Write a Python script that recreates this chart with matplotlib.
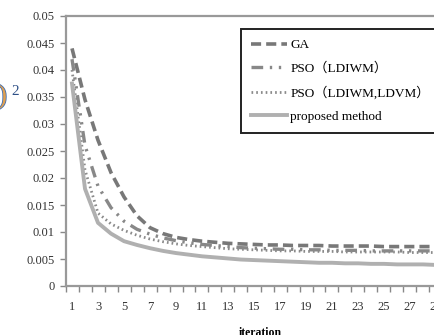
import matplotlib
matplotlib.use("Agg")
import matplotlib.pyplot as plt
import matplotlib.patheffects as pe
from matplotlib.ticker import FixedLocator, NullFormatter

plt.rcParams['font.family'] = ['Liberation Serif', 'Noto Sans CJK SC', 'DejaVu Sans']

iterations = list(range(1, 31))
ga = [0.0440, 0.0345, 0.0270, 0.0210, 0.0165, 0.0130, 0.0108, 0.0097, 0.0090, 0.0086,
      0.0083, 0.0081, 0.0079, 0.0078, 0.0077, 0.0076, 0.0076, 0.0075, 0.0075, 0.0075,
      0.0074, 0.0074, 0.0074, 0.0074, 0.0073, 0.0073, 0.0073, 0.0073, 0.0073, 0.0073]
pso_ldiwm = [0.0420, 0.0260, 0.0185, 0.0145, 0.0120, 0.0105, 0.0096, 0.0089, 0.0084, 0.0080,
             0.0077, 0.0075, 0.0073, 0.0071, 0.0070, 0.0069, 0.0068, 0.0068, 0.0067, 0.0067,
             0.0066, 0.0066, 0.0066, 0.0065, 0.0065, 0.0065, 0.0065, 0.0065, 0.0065, 0.0065]
pso_ldiwm_ldvm = [0.0400, 0.0215, 0.0135, 0.0115, 0.0103, 0.0094, 0.0087, 0.0082, 0.0078, 0.0075,
                  0.0073, 0.0071, 0.0069, 0.0068, 0.0067, 0.0066, 0.0065, 0.0065, 0.0064, 0.0064,
                  0.0064, 0.0063, 0.0063, 0.0063, 0.0063, 0.0063, 0.0062, 0.0062, 0.0062, 0.0062]
proposed = [0.0375, 0.0180, 0.0117, 0.0097, 0.0083, 0.0076, 0.0070, 0.0065, 0.0061, 0.0058,
            0.0055, 0.0053, 0.0051, 0.0049, 0.0048, 0.0047, 0.0046, 0.0045, 0.0044, 0.0043,
            0.0043, 0.0042, 0.0042, 0.0041, 0.0041, 0.0040, 0.0040, 0.0040, 0.0039, 0.0039]
labels = ["GA", "PSO（LDIWM）", "PSO（LDIWM,LDVM）", "proposed method"]
y_ticks = [0, 0.005, 0.01, 0.015, 0.02, 0.025, 0.03, 0.035, 0.04, 0.045, 0.05]
y_tick_labels = ["0", "0.005", "0.01", "0.015", "0.02", "0.025", "0.03", "0.035", "0.04", "0.045", "0.05"]
x_tick_values = list(range(1, 30, 2))

W, H = 434, 335
fig = plt.figure(figsize=(W / 100, H / 100), dpi=100)
ax = fig.add_axes([65.5 / W, 49 / H, 390 / W, 270 / H])

ax.plot(iterations, ga, color='#787878', lw=2.6, ls=(0, (2.8, 1.4)), label=labels[0])
ax.plot(iterations, pso_ldiwm, color='#888888', lw=2.4, ls=(0, (3.5, 2, 0.7, 2, 0.7, 2)), label=labels[1])
ax.plot(iterations, pso_ldiwm_ldvm, color='#8a8a8a', lw=2.0, ls=(0, (0.6, 1.1)), label=labels[2])
ax.plot(iterations, proposed, color='#b0b0b0', lw=2.8, ls='-', label=labels[3])

ax.set_xlim(0.5, 30.5)
ax.set_ylim(0, 0.05)
ax.set_yticks(y_ticks)
ax.set_yticklabels(y_tick_labels, fontsize=9, color='#333333')
ax.set_xticks(x_tick_values)
ax.set_xticklabels([str(v) for v in x_tick_values], fontsize=9, color='#333333')
ax.xaxis.set_minor_locator(FixedLocator([i + 0.5 for i in range(0, 31)]))
ax.xaxis.set_minor_formatter(NullFormatter())
ax.tick_params(axis='x', which='major', length=0, pad=11)
ax.tick_params(axis='x', which='minor', length=4, width=1, color='#888888', direction='out')
ax.tick_params(axis='y', which='major', length=4, width=1, color='#888888', direction='out', pad=4)

for s in ['left', 'bottom', 'top']:
    ax.spines[s].set_color('#999999')
    ax.spines[s].set_linewidth(1.6)
ax.spines['right'].set_visible(False)

ax.set_xlabel("iteration", fontsize=8.5, fontweight='bold', labelpad=10)

leg = ax.legend(loc='upper left', bbox_to_anchor=(241 / W, 1 - 29 / H), bbox_transform=fig.transFigure,
                fontsize=9.5, handlelength=2.7, labelspacing=0.85, borderpad=0.75,
                handletextpad=0.3, fancybox=False, framealpha=1, borderaxespad=0)
leg.get_frame().set_edgecolor('#222222')
leg.get_frame().set_linewidth(1.4)

fig.text(-0.005, 1 - 97 / H, ")", fontsize=20, color='#e0a050', va='center', ha='left',
         path_effects=[pe.withStroke(linewidth=1.2, foreground='#3f6fb5')])
fig.text(11 / W, 1 - 92 / H, "2", fontsize=11, color='#2d4f86', va='center', ha='left')

fig.savefig("out.png", dpi=100)
